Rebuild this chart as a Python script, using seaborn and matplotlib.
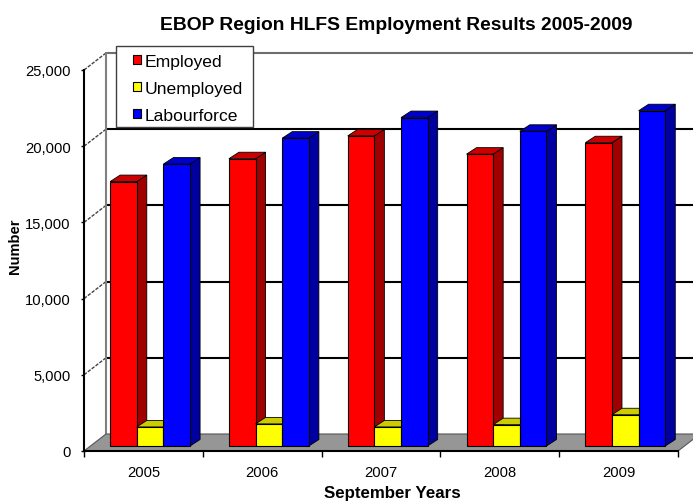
import numpy as np
import pandas as pd
import matplotlib
matplotlib.use("Agg")
import matplotlib.pyplot as plt
from matplotlib.legend_handler import HandlerPatch
from matplotlib.patches import Polygon, Rectangle
import seaborn as sns

years = ["2005", "2006", "2007", "2008", "2009"]
employed = [17350, 18850, 20350, 19150, 19900]
unemployed = [1250, 1450, 1250, 1400, 2050]
labourforce = [18500, 20200, 21550, 20650, 22000]
series_names = ["Employed", "Unemployed", "Labourforce"]
front_colors = ["#FF0000", "#FFFF00", "#0000FF"]
side_colors = ["#A00000", "#A0A000", "#0000A0"]
top_colors = ["#CC0000", "#CCCC00", "#0000CC"]
y_ticks = [0, 5000, 10000, 15000, 20000, 25000]

sns.set_theme(style="white")
plt.rcParams["font.family"] = ["Liberation Sans", "DejaVu Sans"]

W, H = 693, 502
fig = plt.figure(figsize=(W / 100, H / 100), dpi=100, facecolor="white")
ax = fig.add_axes([84 / W, 1 - 452 / H, 594 / W, 381 / H])

df = pd.DataFrame({
    "Year": years * 3,
    "Series": sum([[n] * len(years) for n in series_names], []),
    "Number": employed + unemployed + labourforce,
})

# pixel -> data-unit helpers
PX_X = 5 / 594
PX_Y = 25000 / 381
base = 5 * PX_Y
shift = 6.7 * PX_X
depth_x, depth_y = 10 * PX_X, 6.5 * PX_Y
wall_x, wall_y = 22 * PX_X, 17 * PX_Y

sns.barplot(data=df, x="Year", y="Number", hue="Series", hue_order=series_names,
            palette=front_colors, saturation=1, width=0.673, gap=0, dodge=True,
            edgecolor="black", linewidth=0.8, ax=ax, errorbar=None, zorder=3)

ax.set_xlim(-0.5, 4.5)
ax.set_ylim(0, 25000)
x0, x1 = -0.5, 4.5

# back wall, floor, gridlines
xback = x0 + wall_x
xright = x1 + wall_x
ax.add_patch(Polygon([(x0, 0), (xback, wall_y), (xright, wall_y), (x1, 0)], closed=True,
                     facecolor="#969696", edgecolor="#555555", linewidth=0.8,
                     zorder=1.5, clip_on=False))
for v in y_ticks[1:]:
    c = "#6E6E6E" if v == 25000 else "black"
    ax.plot([xback, xright], [v + wall_y] * 2, color=c, lw=1.5, zorder=1, clip_on=False)
    ax.plot([x0, xback], [v, v + wall_y], color="#444444", lw=1.0, ls=(0, (2.5, 1)),
            zorder=1, clip_on=False)
ax.plot([xback, xback], [wall_y, 25000 + wall_y], color="#808080", lw=1.5, zorder=1.2, clip_on=False)

# 3-D faces built on the bars that seaborn drew
for level, container in enumerate(ax.containers):
    for p in container:
        p.set_x(p.get_x() + shift)
        p.set_y(base)
        xa, w = p.get_x(), p.get_width()
        yb, h = p.get_y(), p.get_height()
        xb, yt = xa + w, yb + h
        z = 3 + level * 0.3
        p.set_zorder(z + 0.2)
        ax.add_patch(Polygon([(xb, yb), (xb + depth_x, yb + depth_y), (xb + depth_x, yt + depth_y), (xb, yt)],
                             closed=True, facecolor=side_colors[level], edgecolor="black",
                             linewidth=0.6, zorder=z, clip_on=False))
        ax.add_patch(Polygon([(xa, yt), (xa + depth_x, yt + depth_y), (xb + depth_x, yt + depth_y), (xb, yt)],
                             closed=True, facecolor=top_colors[level], edgecolor="black",
                             linewidth=0.6, zorder=z, clip_on=False))

# axes
for s in ["top", "right"]:
    ax.spines[s].set_visible(False)
for s in ["left", "bottom"]:
    ax.spines[s].set_color("black")
    ax.spines[s].set_linewidth(1.5)
    ax.spines[s].set_zorder(2)
ax.set_yticks(y_ticks)
ax.set_yticklabels([f"{v:,}" for v in y_ticks], fontsize=10.6, color="black")
ax.tick_params(axis="y", left=True, length=2.5, width=1, pad=7, color="black")
ax.set_xticks(np.arange(-0.5, 5, 1))
ax.set_xticklabels([""] * 6)
ax.set_xticks(np.arange(5), labels=years, minor=True)
ax.tick_params(axis="x", which="major", bottom=True, length=4, width=1, color="black")
ax.tick_params(axis="x", which="minor", bottom=False, length=0, pad=10, labelsize=10.6, labelcolor="black")
ax.set_xlabel("")
ax.set_ylabel("")
ax.grid(False)

fig.text(396 / W, 1 - 25.5 / H, "EBOP Region HLFS Employment Results 2005-2009",
         fontsize=13.9, fontweight="bold", ha="center", va="center", color="black")
fig.text(392.5 / W, 1 - 494 / H, "September Years", fontsize=12.2, fontweight="bold",
         ha="center", va="center", color="black")
fig.text(15 / W, 1 - 246 / H, "Number", fontsize=10.5, fontweight="bold", rotation=90,
         ha="center", va="center", color="black")


def small_square(legend, orig_handle, xdescent, ydescent, width, height, fontsize):
    side = 6.2
    return Rectangle((width - side - xdescent, (height - side) / 2 - ydescent), side, side)


sns.move_legend(ax, loc="upper left", bbox_to_anchor=(116 / W, 1 - 48.5 / H), bbox_transform=fig.transFigure,
                title=None, frameon=False, fontsize=12.6, handlelength=1.09, handleheight=0.7,
                handletextpad=0.18, labelspacing=0.67, borderpad=0.35, borderaxespad=0, labelcolor="black",
                handler_map={Rectangle: HandlerPatch(patch_func=small_square)})
ax.add_patch(Rectangle((116 / W, 1 - 128 / H), 137 / W, 81 / H, transform=fig.transFigure,
                       facecolor="white", edgecolor="#404040", linewidth=1.0, zorder=4.9, clip_on=False))

fig.savefig("out.png", dpi=100)
